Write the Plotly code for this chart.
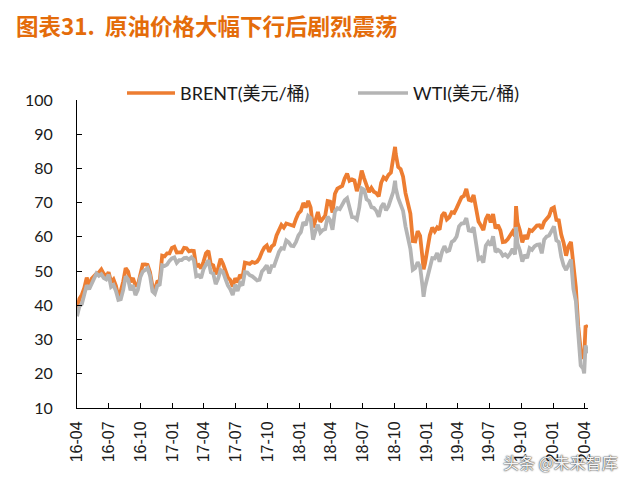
import plotly.graph_objects as go

# ---------------- data (weekly readings, USD/bbl) ----------------
dates_2016 = ["2016-04-01","2016-04-08","2016-04-15","2016-04-22","2016-04-29","2016-05-06","2016-05-13","2016-05-20","2016-05-27","2016-06-03",
              "2016-06-10","2016-06-17","2016-06-24","2016-07-01","2016-07-08","2016-07-15","2016-07-22","2016-07-29","2016-08-05","2016-08-12",
              "2016-08-19","2016-08-26","2016-09-02","2016-09-09","2016-09-16","2016-09-23","2016-09-30","2016-10-07","2016-10-14","2016-10-21",
              "2016-10-28","2016-11-04","2016-11-11","2016-11-18","2016-11-25","2016-12-02","2016-12-09","2016-12-16","2016-12-23","2016-12-30"]
brent_2016 = [38.7, 41.9, 43.1, 45.1, 48.1, 45.4, 47.8, 48.7, 49.3, 49.6,
              50.5, 49.2, 48.4, 49.7, 46.8, 47.6, 45.7, 42.5, 44.3, 47.0,
              50.9, 49.9, 46.8, 48.0, 45.8, 45.9, 49.2, 51.9, 51.95, 51.8,
              49.7, 45.6, 44.75, 46.9, 47.2, 54.5, 54.3, 55.2, 55.2, 56.8]
wti_2016 = [36.8, 39.7, 40.4, 43.7, 45.9, 44.7, 46.2, 47.75, 49.3, 48.6,
            49.1, 47.98, 47.6, 48.99, 45.4, 45.95, 44.2, 41.6, 41.8, 44.5,
            48.5, 47.6, 44.4, 45.9, 43.0, 44.5, 48.2, 49.8, 50.35, 50.85,
            48.7, 44.1, 43.4, 45.7, 46.1, 51.7, 51.5, 51.9, 53.0, 53.7]

dates_2017 = ["2017-01-06","2017-01-13","2017-01-20","2017-01-27","2017-02-03","2017-02-10","2017-02-17","2017-02-24","2017-03-03","2017-03-10",
              "2017-03-17","2017-03-24","2017-03-31","2017-04-07","2017-04-14","2017-04-21","2017-04-28","2017-05-05","2017-05-12","2017-05-19",
              "2017-05-26","2017-06-02","2017-06-09","2017-06-16","2017-06-23","2017-06-30","2017-07-07","2017-07-14","2017-07-21","2017-07-28",
              "2017-08-04","2017-08-11","2017-08-18","2017-08-25","2017-09-01","2017-09-08","2017-09-15","2017-09-22","2017-09-29","2017-10-06",
              "2017-10-13","2017-10-20","2017-10-27","2017-11-03","2017-11-10","2017-11-17","2017-11-24","2017-12-01","2017-12-08","2017-12-15",
              "2017-12-22","2017-12-29"]
brent_2017 = [57.1, 55.45, 55.5, 55.5, 56.8, 56.7, 55.8, 56.0, 55.9, 51.4,
              51.8, 50.8, 52.8, 55.2, 55.9, 52.0, 51.7, 49.1, 50.8, 53.6,
              52.15, 49.95, 48.15, 47.4, 45.5, 47.9, 46.7, 48.9, 48.1, 52.5,
              52.4, 52.1, 52.7, 52.4, 52.75, 53.8, 55.6, 56.9, 57.5, 55.6,
              57.2, 57.75, 60.4, 62.1, 63.5, 62.7, 63.9, 63.7, 63.4, 63.2,
              65.25, 66.9]
wti_2017 = [54.0, 52.4, 53.2, 53.2, 53.8, 53.9, 53.4, 54.0, 53.3, 48.5,
            48.8, 47.97, 50.6, 52.2, 53.2, 49.6, 49.3, 46.2, 47.8, 50.3,
            49.8, 47.7, 45.8, 44.7, 43.0, 46.0, 44.2, 46.5, 45.8, 49.7,
            49.6, 48.8, 48.5, 47.9, 47.3, 47.5, 49.9, 50.7, 51.7, 49.3,
            51.45, 51.5, 53.9, 55.6, 56.7, 56.55, 58.95, 58.4, 57.4, 57.3,
            58.5, 60.4]

dates_2018 = ["2018-01-05","2018-01-12","2018-01-19","2018-01-26","2018-02-02","2018-02-09","2018-02-16","2018-02-23","2018-03-02","2018-03-09",
              "2018-03-16","2018-03-23","2018-03-30","2018-04-06","2018-04-13","2018-04-20","2018-04-27","2018-05-04","2018-05-11","2018-05-18",
              "2018-05-25","2018-06-01","2018-06-08","2018-06-15","2018-06-22","2018-06-29","2018-07-06","2018-07-13","2018-07-20","2018-07-27",
              "2018-08-03","2018-08-10","2018-08-17","2018-08-24","2018-08-31","2018-09-07","2018-09-14","2018-09-21","2018-09-28","2018-10-03",
              "2018-10-05","2018-10-12","2018-10-19","2018-10-26","2018-11-02","2018-11-09","2018-11-16","2018-11-23","2018-11-30","2018-12-07",
              "2018-12-14","2018-12-21","2018-12-24","2018-12-28"]
brent_2018 = [67.6, 69.9, 68.6, 70.5, 68.6, 62.8, 64.8, 67.3, 64.4, 65.5,
              66.2, 70.45, 70.3, 67.1, 72.6, 74.1, 74.6, 74.9, 77.1, 78.5,
              76.4, 76.8, 76.5, 73.4, 75.55, 79.4, 77.1, 75.3, 73.1, 74.3,
              73.2, 72.8, 71.8, 75.8, 77.4, 76.8, 78.1, 78.8, 82.7, 86.3,
              84.2, 80.4, 79.8, 77.6, 72.8, 70.2, 66.8, 58.8, 58.7, 61.7,
              60.3, 53.8, 50.5, 52.2]
wti_2018 = [61.4, 64.3, 63.4, 66.1, 65.45, 59.2, 61.7, 63.55, 61.25, 62.0,
            62.3, 65.9, 64.9, 62.1, 67.4, 68.4, 68.1, 69.7, 70.7, 71.3,
            67.9, 65.8, 65.7, 65.1, 68.6, 74.2, 73.8, 71.0, 70.5, 68.7,
            68.5, 67.6, 65.9, 68.7, 69.8, 67.75, 68.99, 70.8, 73.25, 76.4,
            74.3, 71.3, 69.1, 67.6, 63.1, 60.2, 56.5, 50.4, 50.9, 52.6,
            51.2, 45.6, 42.5, 45.3]

dates_2019 = ["2019-01-04","2019-01-11","2019-01-18","2019-01-25","2019-02-01","2019-02-08","2019-02-15","2019-02-22","2019-03-01","2019-03-08",
              "2019-03-15","2019-03-22","2019-03-29","2019-04-05","2019-04-12","2019-04-19","2019-04-26","2019-05-03","2019-05-10","2019-05-17",
              "2019-05-24","2019-05-31","2019-06-07","2019-06-14","2019-06-21","2019-06-28","2019-07-05","2019-07-12","2019-07-19","2019-07-26",
              "2019-08-02","2019-08-09","2019-08-16","2019-08-23","2019-08-30","2019-09-06","2019-09-13","2019-09-16","2019-09-20","2019-09-27",
              "2019-10-04","2019-10-11","2019-10-18","2019-10-25","2019-11-01","2019-11-08","2019-11-15","2019-11-22","2019-11-29","2019-12-06",
              "2019-12-13","2019-12-20","2019-12-27"]
brent_2019 = [57.1, 60.5, 62.7, 61.6, 62.75, 62.1, 66.25, 67.1, 65.1, 65.7,
              67.2, 67.0, 68.4, 70.3, 71.55, 71.97, 74.0, 70.85, 70.6, 72.2,
              68.7, 64.5, 63.3, 62.0, 65.2, 66.55, 64.2, 66.7, 62.5, 63.5,
              61.9, 58.5, 58.6, 59.3, 60.4, 61.5, 60.2, 69.0, 64.3, 61.9,
              58.4, 60.5, 59.4, 62.0, 61.7, 62.5, 63.3, 63.4, 62.4, 64.4,
              65.2, 66.1, 68.2]
wti_2019 = [47.96, 51.6, 53.8, 53.7, 55.3, 52.7, 55.6, 57.3, 55.8, 56.1,
            58.5, 59.0, 60.1, 63.1, 63.9, 64.0, 65.5, 61.9, 61.7, 62.8,
            58.6, 53.5, 53.99, 52.5, 57.4, 58.5, 57.5, 60.2, 55.6, 56.2,
            55.7, 54.5, 54.9, 54.2, 55.1, 56.5, 54.85, 62.9, 58.1, 56.0,
            52.8, 54.7, 53.8, 56.7, 56.2, 57.2, 57.7, 57.8, 55.2, 59.2,
            60.1, 60.4, 61.7]

dates_2020 = ["2020-01-03","2020-01-10","2020-01-17","2020-01-24","2020-01-31","2020-02-07","2020-02-14","2020-02-21","2020-02-28","2020-03-06",
              "2020-03-13","2020-03-20","2020-03-27","2020-03-30","2020-04-03","2020-04-09"]
brent_2020 = [68.6, 65.0, 64.85, 60.7, 58.2, 54.5, 57.3, 58.5, 50.5, 45.3,
              33.85, 26.98, 24.9, 25.0, 34.1, 33.5]
wti_2020 = [63.05, 59.0, 58.5, 54.2, 51.6, 50.3, 52.05, 53.4, 44.8, 41.3,
            31.7, 22.4, 21.5, 20.1, 28.3, 26.0]

series_names = ["BRENT(美元/桶)", "WTI(美元/桶)"]
tick_dates = ["2016-04-01","2016-07-01","2016-10-01","2017-01-01","2017-04-01","2017-07-01","2017-10-01",
              "2018-01-01","2018-04-01","2018-07-01","2018-10-01","2019-01-01","2019-04-01","2019-07-01",
              "2019-10-01","2020-01-01","2020-04-01"]
tick_labels = ["16-04","16-07","16-10","17-01","17-04","17-07","17-10","18-01","18-04","18-07",
               "18-10","19-01","19-04","19-07","19-10","20-01","20-04"]
title_text = "图表31.  原油价格大幅下行后剧烈震荡"
watermark = "头条 @未来智库"

dates = dates_2016 + dates_2017 + dates_2018 + dates_2019 + dates_2020
brent = brent_2016 + brent_2017 + brent_2018 + brent_2019 + brent_2020
wti = wti_2016 + wti_2017 + wti_2018 + wti_2019 + wti_2020
assert len(dates) == len(brent) == len(wti)

ORANGE = "#ED7D31"
GRAY = "#B4B4B4"
LATIN = "Lato, 'Noto Sans CJK SC', sans-serif"
LW = 3.8

fig = go.Figure()
fig.add_trace(go.Scatter(x=dates, y=brent, mode="lines", name=series_names[0],
                         line=dict(color=ORANGE, width=LW)))
fig.add_trace(go.Scatter(x=dates, y=wti, mode="lines", name=series_names[1],
                         line=dict(color=GRAY, width=LW)))

W, H = 632, 483
ml, mr, mt, mb = 77, 44, 100, 75
fig.update_layout(
    width=W, height=H,
    margin=dict(l=ml, r=mr, t=mt, b=mb),
    paper_bgcolor="white", plot_bgcolor="white",
    showlegend=False,
    font=dict(family=LATIN, color="#1a1a1a"),
)
fig.update_xaxes(
    type="date", range=["2016-04-01", "2020-04-10"],
    tickmode="array", tickvals=tick_dates, ticktext=tick_labels,
    tickangle=-90, tickfont=dict(family="'Liberation Sans', Arial, sans-serif", size=16, color="#1a1a1a"),
    showline=True, linecolor="#000", linewidth=1,
    ticks="inside", ticklen=5, tickcolor="#000",
    showgrid=False, zeroline=False, ticklabelstandoff=6,
)
fig.update_yaxes(
    range=[10, 100], dtick=10, tick0=10,
    tickfont=dict(family=LATIN, size=16, color="#1a1a1a"),
    showline=True, linecolor="#000", linewidth=1,
    ticks="inside", ticklen=5, tickcolor="#000",
    showgrid=False, zeroline=False, ticklabelstandoff=20,
)

pw = W - ml - mr
ph = H - mt - mb
def px(x):
    return (x - ml) / pw
def py(y):
    return (H - mb - y) / ph

# title
fig.add_annotation(text="<b>" + title_text + "</b>", xref="paper", yref="paper",
                   x=px(14), y=py(25), xanchor="left", yanchor="middle", showarrow=False,
                   font=dict(family="'Noto Sans CJK SC', sans-serif", size=22.5, color="#E46C0A"))

# custom legend
leg_y = py(93)
for name, col, x0, x1 in [(series_names[0], ORANGE, 127, 175), (series_names[1], GRAY, 358, 408)]:
    fig.add_shape(type="line", xref="paper", yref="paper", x0=px(x0), x1=px(x1), y0=leg_y, y1=leg_y,
                  line=dict(color=col, width=3.5))
    fig.add_annotation(text=name, xref="paper", yref="paper", x=px(x1 + 3), y=leg_y,
                       xanchor="left", yanchor="middle", showarrow=False,
                       font=dict(family=LATIN, size=18, color="#1a1a1a"))

# watermark
fig.add_annotation(text=watermark, xref="paper", yref="paper", x=px(620), y=py(462),
                   xanchor="right", yanchor="middle", showarrow=False,
                   font=dict(family="'Noto Sans CJK SC', sans-serif", size=16, color="#f4f4f4",
                             shadow="0px 0px 2px #333, 0px 0px 1px #333"))

fig.write_html("out.html")
